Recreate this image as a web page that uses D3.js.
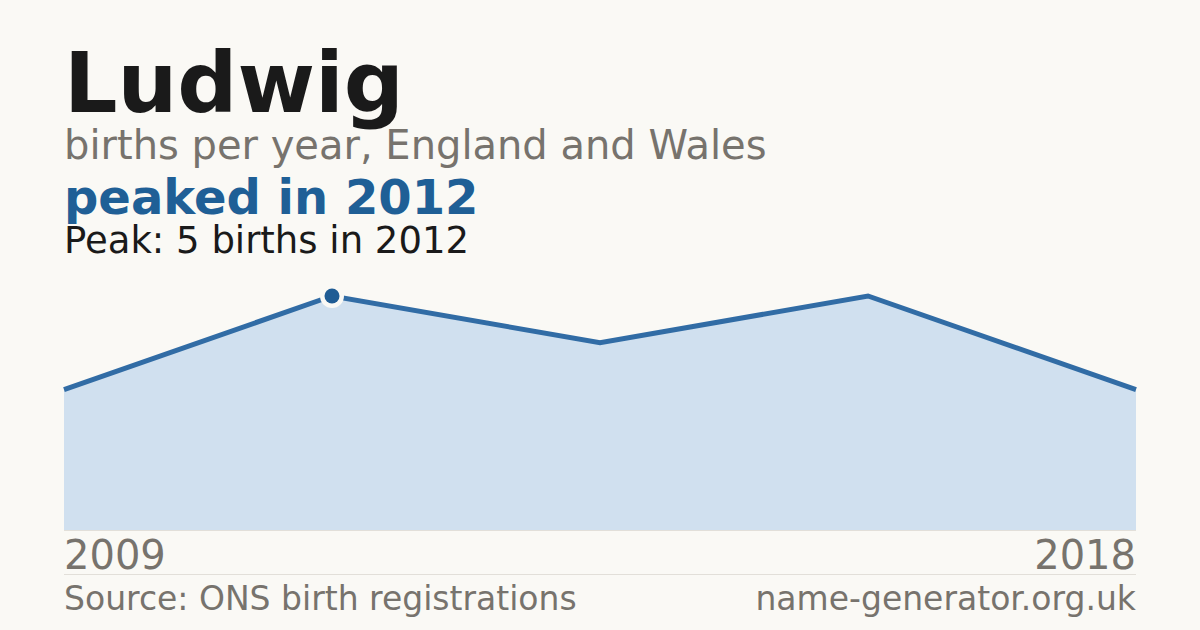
<!DOCTYPE html>
<html><head><meta charset="utf-8">
<script src="https://cdn.jsdelivr.net/npm/d3@7/dist/d3.min.js"></script>
<style>html,body{margin:0;padding:0;background:#faf9f5;}svg{display:block;}</style>
</head><body>
<svg id="c" width="1200" height="630"></svg>
<script>
const years = [2009, 2012, 2014, 2016, 2018];
const births = [3, 5, 4, 5, 3];
const title = "Ludwig";
const subtitle = "births per year, England and Wales";
const headline = "peaked in 2012";
const peakNote = "Peak: 5 births in 2012";
const sourceText = "Source: ONS birth registrations";
const siteText = "name-generator.org.uk";

const svg = d3.select("#c");
const font = "'DejaVu Sans', sans-serif";
svg.append("rect").attr("width",1200).attr("height",630).attr("fill","#faf9f5");

const x = d3.scalePoint().domain(d3.range(years.length)).range([64,1136]);
const y = d3.scaleLinear().domain([0, d3.max(births)]).range([530,296]);

const data = births.map((v,i)=>({i, v, year: years[i]}));

svg.append("path").datum(data)
  .attr("d", d3.area().x(d=>x(d.i)).y0(y(0)).y1(d=>y(d.v)))
  .attr("fill","#d0e0ef");
svg.append("path").datum(data)
  .attr("d", d3.line().x(d=>x(d.i)).y(d=>y(d.v)))
  .attr("fill","none").attr("stroke","#316ca5").attr("stroke-width",5).attr("stroke-linejoin","miter");

const peakIdx = births.indexOf(d3.max(births));
svg.append("circle").attr("cx",x(peakIdx)).attr("cy",y(births[peakIdx])).attr("r",12).attr("fill","#faf9f5");
svg.append("circle").attr("cx",x(peakIdx)).attr("cy",y(births[peakIdx])).attr("r",7.5).attr("fill","#1f5c94");

svg.append("line").attr("x1",64).attr("x2",1136).attr("y1",530.5).attr("y2",530.5).attr("stroke","#e2dfd9").attr("stroke-width",1);
svg.append("line").attr("x1",64).attr("x2",1136).attr("y1",574.5).attr("y2",574.5).attr("stroke","#e2dfd9").attr("stroke-width",1);

svg.append("text").attr("x",64).attr("y",112).text(title)
  .attr("font-family",font).attr("font-weight","bold").attr("font-size",84).attr("fill","#1a1a1a");
svg.append("text").attr("x",64).attr("y",159).text(subtitle)
  .attr("font-family",font).attr("font-size",40).attr("fill","#77736d");
svg.append("text").attr("x",64).attr("y",214).text(headline)
  .attr("font-family",font).attr("font-weight","bold").attr("font-size",48).attr("fill","#1f5f96");
svg.append("text").attr("x",64).attr("y",253).text(peakNote)
  .attr("font-family",font).attr("font-size",37).attr("fill","#1a1a1a");

svg.append("text").attr("x",64).attr("y",569).text(years[0])
  .attr("font-family",font).attr("font-size",40).attr("fill","#77736d");
svg.append("text").attr("x",1136).attr("y",569).attr("text-anchor","end").text(years[years.length-1])
  .attr("font-family",font).attr("font-size",40).attr("fill","#77736d");

svg.append("text").attr("x",64).attr("y",610).text(sourceText)
  .attr("font-family",font).attr("font-size",33).attr("fill","#77736d");
svg.append("text").attr("x",1136).attr("y",610).attr("text-anchor","end").text(siteText)
  .attr("font-family",font).attr("font-size",33).attr("fill","#77736d");
</script>
</body></html>
